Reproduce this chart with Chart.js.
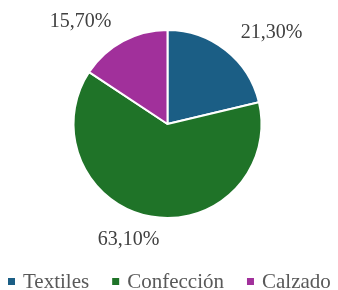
<!DOCTYPE html>
<html lang="es">
<head>
    <meta charset="UTF-8">
    <title>Participación por rubro</title>
    <style>
        html, body {
            margin: 0;
            padding: 0;
            background: #ffffff;
        }
        .chart-box {
            width: 338px;
            height: 290px;
        }
    </style>
</head>
<body>
    <div class="chart-box">
        <canvas id="pie-chart"></canvas>
    </div>

    <script src="https://cdn.jsdelivr.net/npm/chart.js"></script>
    <script>
        const categorias = ['Textiles', 'Confección', 'Calzado'];
        const porcentajes = [21.3, 63.1, 15.7];
        const etiquetas = ['21,30%', '63,10%', '15,70%'];

        const colores = ['#1b5e85', '#1f7328', '#a1309b'];
        const fuente = '"Liberation Serif", "DejaVu Serif"';
        // desplazamiento de cada etiqueta respecto al centro del pastel
        const posEtiqueta = [[104, -91], [-39, 116], [-87, -102]];

        const etiquetasPlugin = {
            id: 'etiquetas',
            afterDatasetsDraw(chart) {
                const ctx = chart.ctx;
                const arcs = chart.getDatasetMeta(0).data;
                ctx.save();
                ctx.font = '20px ' + fuente;
                ctx.fillStyle = '#404040';
                ctx.textAlign = 'center';
                ctx.textBaseline = 'middle';
                arcs.forEach((arc, i) => {
                    ctx.fillText(etiquetas[i], arc.x + posEtiqueta[i][0], arc.y + posEtiqueta[i][1]);
                });
                ctx.restore();
            }
        };

        // leyenda inferior dibujada a mano para poder ubicarla como en el original
        const leyendaPlugin = {
            id: 'leyenda',
            afterDraw(chart) {
                const ctx = chart.ctx;
                const caja = 7, hueco = 8, separacion = 23;
                ctx.save();
                ctx.font = '21px ' + fuente;
                ctx.textBaseline = 'alphabetic';
                const anchos = categorias.map(c => caja + hueco + ctx.measureText(c).width);
                const total = anchos.reduce((a, b) => a + b, 0) + separacion * (anchos.length - 1);
                let x = Math.round((chart.width - total) / 2);
                const base = 288;
                categorias.forEach((c, i) => {
                    ctx.fillStyle = colores[i];
                    ctx.fillRect(x, 278, caja, caja);
                    ctx.fillStyle = '#595959';
                    ctx.fillText(c, x + caja + hueco, base);
                    x += anchos[i] + separacion;
                });
                ctx.restore();
            }
        };

        const ctx = document.getElementById('pie-chart').getContext('2d');
        new Chart(ctx, {
            type: 'pie',
            data: {
                labels: categorias,
                datasets: [{
                    data: porcentajes,
                    backgroundColor: colores,
                    borderColor: '#ffffff',
                    borderWidth: 2,
                    radius: 94
                }]
            },
            options: {
                responsive: true,
                maintainAspectRatio: false,
                animation: false,
                layout: {
                    padding: { top: 0, bottom: 42, left: 0, right: 3 }
                },
                plugins: {
                    legend: { display: false },
                    tooltip: { enabled: false }
                }
            },
            plugins: [etiquetasPlugin, leyendaPlugin]
        });
    </script>
</body>
</html>
